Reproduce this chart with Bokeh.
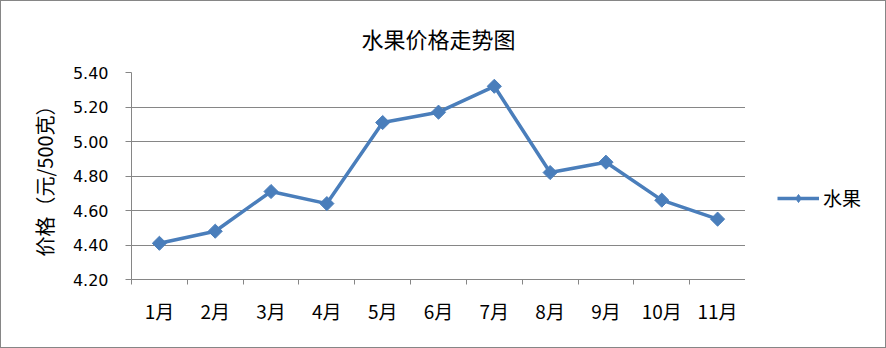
import math
from bokeh.plotting import figure
from bokeh.layouts import row
from bokeh.models import (Range1d, FixedTicker, Legend, LegendItem,
                          NumeralTickFormatter, Title)
from bokeh.embed import file_html
from bokeh.resources import INLINE

# ---- data ----
months = ["1月", "2月", "3月", "4月", "5月", "6月", "7月", "8月", "9月", "10月", "11月"]
prices = [4.41, 4.48, 4.71, 4.64, 5.11, 5.17, 5.32, 4.82, 4.88, 4.66, 4.55]
y_ticks = [4.20, 4.40, 4.60, 4.80, 5.00, 5.20, 5.40]
series_name = "水果"
title_text = "水果价格走势图"
y_label = "价格（元/500克）"

x_pos = [i + 0.5 for i in range(len(months))]
GRID = "#868686"
BLUE = "#4A7EBB"
CJK = "Noto Sans CJK SC"

p = figure(width=744, height=346, output_backend="svg", toolbar_location=None,
           x_range=Range1d(0, len(months)), y_range=Range1d(y_ticks[0], y_ticks[-1]),
           min_border_left=130, min_border_right=0, min_border_top=71, min_border_bottom=68,
           title=None)
p.outline_line_color = None
p.background_fill_color = "white"
p.border_fill_color = "white"

t = Title(text=title_text, align="center", vertical_align="middle", text_font=CJK,
          text_font_size="22px", text_font_style="normal", text_color="black", standoff=36)
p.add_layout(t, "above")

p.xgrid.visible = False
p.ygrid.grid_line_color = GRID
p.ygrid.grid_line_width = 1
p.ygrid.ticker = FixedTicker(ticks=y_ticks)

xa = p.xaxis[0]
xa.ticker = FixedTicker(ticks=x_pos, minor_ticks=list(range(len(months) + 1)))
xa.major_label_overrides = {x: m for x, m in zip(x_pos, months)}
xa.major_tick_line_color = None
xa.minor_tick_line_color = GRID
xa.minor_tick_in = 0
xa.minor_tick_out = 5
xa.axis_line_color = GRID
xa.major_label_text_font = CJK
xa.major_label_text_font_size = "19px"
xa.major_label_text_color = "black"
xa.major_label_standoff = 11

ya = p.yaxis[0]
ya.ticker = FixedTicker(ticks=y_ticks)
ya.formatter = NumeralTickFormatter(format="0.00")
ya.minor_tick_line_color = None
ya.major_tick_in = 0
ya.major_tick_out = 6
ya.major_tick_line_color = GRID
ya.axis_line_color = GRID
ya.major_label_text_font = "DejaVu Sans"
ya.major_label_text_font_size = "16px"
ya.major_label_text_color = "black"
ya.major_label_standoff = 17
ya.axis_label = y_label
ya.axis_label_text_font = CJK
ya.axis_label_text_font_size = "20px"
ya.axis_label_text_font_style = "normal"
ya.axis_label_text_color = "black"
ya.axis_label_standoff = 11

p.line(x_pos, prices, line_color=BLUE, line_width=3.5)
p.scatter(x_pos, prices, marker="square", size=10, angle=math.pi / 4,
          fill_color=BLUE, line_color=BLUE)

# legend panel on the right (same series, drawn out of its visible range)
lp = figure(width=140, height=346, output_backend="svg", toolbar_location=None,
            x_range=Range1d(-20, -10), y_range=Range1d(y_ticks[0], y_ticks[-1]),
            x_axis_type=None, y_axis_type=None,
            min_border=0, min_border_left=0, min_border_right=0, min_border_top=0,
            min_border_bottom=0, title=None)
lp.outline_line_color = None
lp.xgrid.visible = False
lp.ygrid.visible = False
lp.background_fill_color = "white"
lp.border_fill_color = "white"
lln = lp.line(x_pos, prices, line_color=BLUE, line_width=3.5)
lsc = lp.scatter(x_pos, prices, marker="diamond", size=14,
                 fill_color=BLUE, line_color=BLUE)
legend = Legend(items=[LegendItem(label=series_name, renderers=[lln, lsc])],
                location=(32, 68), border_line_color=None, background_fill_alpha=0,
                glyph_width=42, glyph_height=20, label_text_font=CJK,
                label_text_font_size="19px", label_text_color="black",
                padding=0, margin=0, spacing=0, label_standoff=4)
lp.add_layout(legend, "center")

layout = row(p, lp, spacing=0)
layout.styles = {"border": "1px solid " + GRID}

open("out.html", "w").write(file_html(layout, INLINE))
